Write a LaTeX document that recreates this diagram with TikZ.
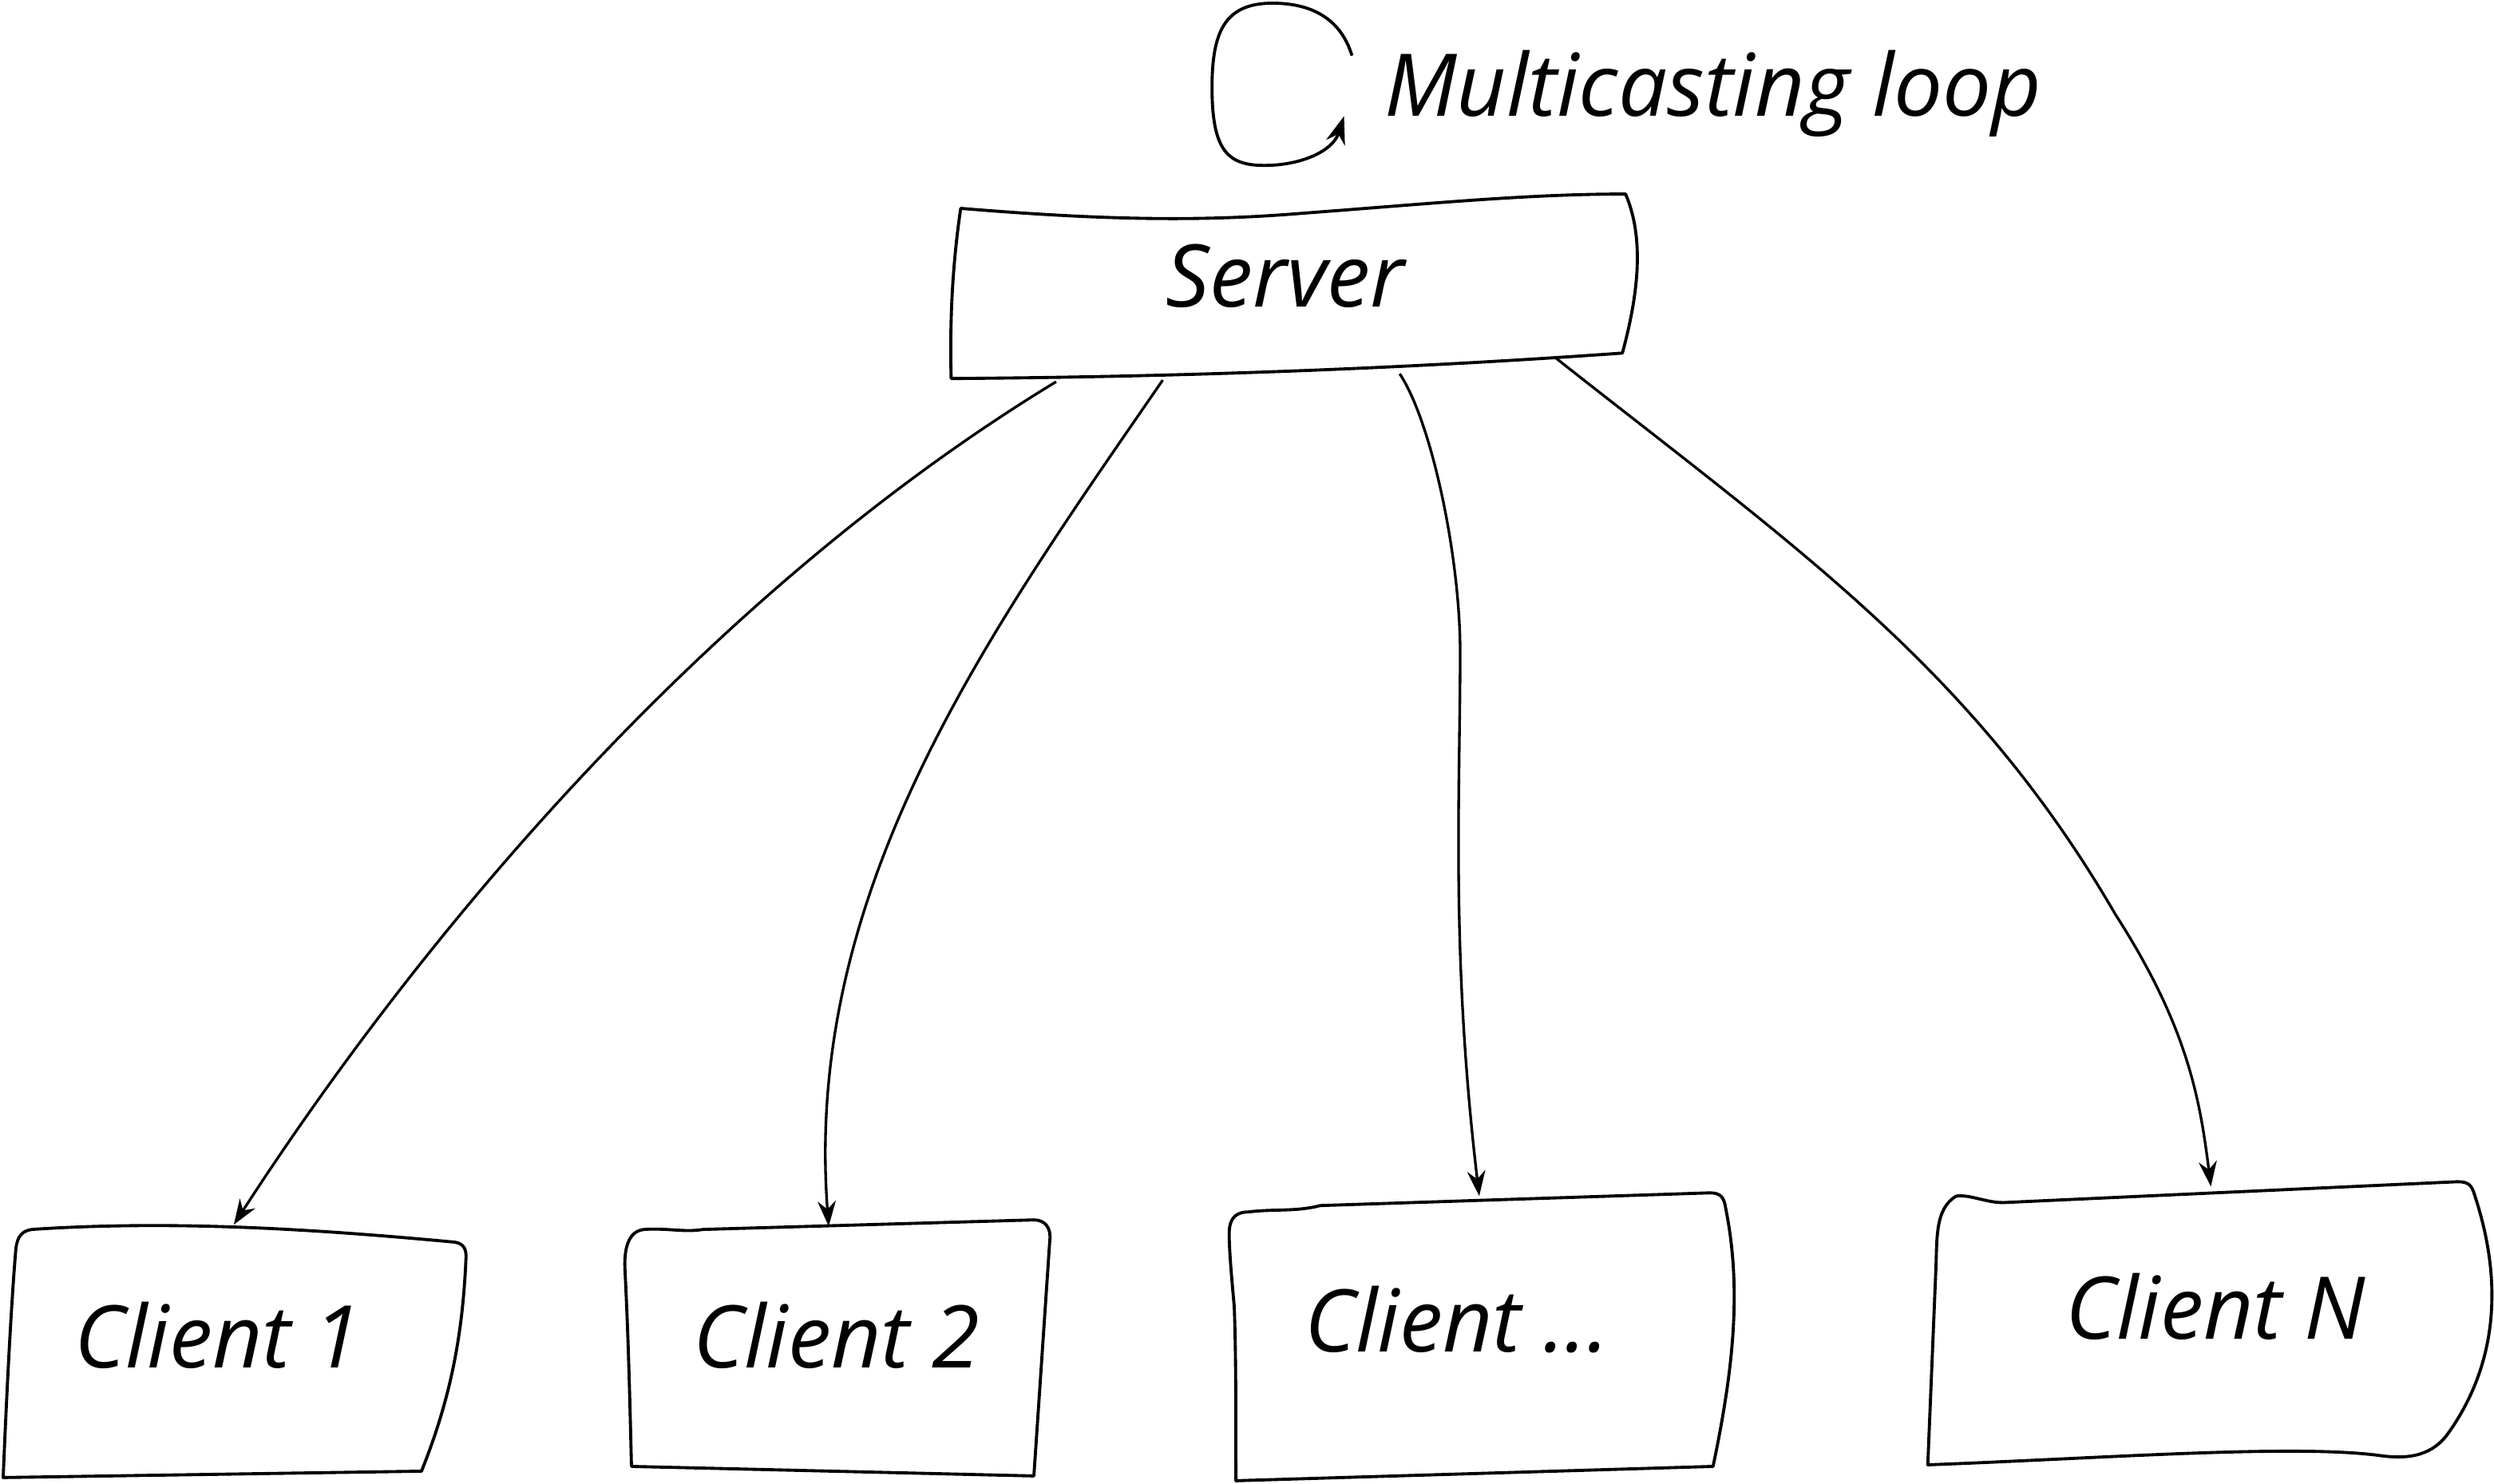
\documentclass[tikz,border=0pt]{standalone}
\usepackage{fontspec}
\setmainfont{Open Sans}
\usetikzlibrary{arrows.meta}
\tikzset{
	box/.style={line width=1.1pt, line join=round},
	link/.style={line width=0.95pt, -{Stealth[length=9pt,width=6.5pt]}},
	lbl/.style={font=\fontsize{31}{36}\selectfont\itshape, inner sep=0pt}
}

\begin{document}
\begin{tikzpicture}[x=0.02cm, y=-0.02cm]
				\useasboundingbox (0,0) rectangle (1568,933);
				
				\coordinate (loop-a) at (850,35);
				\coordinate (loop-b) at (845,73);
				\draw[line width=1.1pt, -{Stealth[length=10pt,width=7pt]}] (loop-a) .. controls (843,12) and (825,2) .. (800,2) .. controls (770,2) and (762,20) .. (762,55) .. controls (762,95) and (772,104) .. (795,104) .. controls (818,104) and (838,95) .. (loop-b);
				\node[lbl, anchor=base west] (mloop) at (870,73) {Multicasting loop};
				
				\draw[box] (604,131) .. controls (700,139) and (760,139) .. (820,134) .. controls (900,128) and (960,122) .. (1022,122) .. controls (1034,150) and (1030,185) .. (1020,222) .. controls (880,232) and (740,237) .. (598,238) .. controls (597,200) and (599,165) .. (604,131) -- cycle;
				\node[lbl, anchor=base] (server) at (808,193) {Server};
				
				\draw[box] (20,773) .. controls (110,767) and (200,773) .. (286,781) .. controls (292,782) and (293,786) .. (293,790) .. controls (291,840) and (283,880) .. (265,925) -- (2,929) .. controls (4,880) and (7,820) .. (10,785) .. controls (11,777) and (14,774) .. (20,773) -- cycle;
				\node[lbl, anchor=base] (client1) at (137,860) {Client 1};
				
				\draw[box] (405,773) .. controls (420,772) and (430,775) .. (442,773) -- (650,767) .. controls (657,767) and (661,772) .. (660,780) -- (650,928) -- (397,922) .. controls (396,880) and (395,840) .. (393,800) .. controls (392,785) and (395,774) .. (405,773) -- cycle;
				\node[lbl, anchor=base] (client2) at (526,860) {Client 2};
				
				\draw[box] (785,762) .. controls (800,760) and (815,762) .. (830,758) -- (1075,750) .. controls (1082,750) and (1084,753) .. (1085,760) .. controls (1095,810) and (1090,860) .. (1077,922) -- (777,931) .. controls (777,880) and (777,850) .. (776,822) .. controls (775,810) and (772,780) .. (773,772) .. controls (774,765) and (778,762) .. (785,762) -- cycle;
				\node[lbl, anchor=base] (client3) at (916,850) {Client ...};
				
				\draw[box] (1230,752) .. controls (1240,751) and (1250,757) .. (1262,756) -- (1545,743) .. controls (1552,743) and (1554,745) .. (1556,752) .. controls (1575,810) and (1568,860) .. (1540,900) .. controls (1530,915) and (1515,918) .. (1495,915) .. controls (1440,908) and (1320,917) .. (1212,921) -- (1217,800) .. controls (1218,780) and (1216,760) .. (1230,752) -- cycle;
				\node[lbl, anchor=base] (clientN) at (1393,842) {Client N};
				
				\coordinate (srv-o1) at (664,240);
				\coordinate (srv-o2) at (731,239);
				\coordinate (srv-o3) at (880,235);
				\coordinate (srv-o4) at (978,225);
				\coordinate (c1-in) at (147,770);
				\coordinate (c2-in) at (521,771);
				\coordinate (c3-in) at (930,752);
				\coordinate (cN-in) at (1390,746);
				
				\draw[link] (srv-o1) .. controls (450,370) and (270,580) .. (c1-in);
				\draw[link] (srv-o2) .. controls (620,400) and (505,560) .. (c2-in);
				\draw[link] (srv-o3) .. controls (900,265) and (918,350) .. (918,410) .. controls (918,500) and (912,600) .. (c3-in);
				\draw[link] (srv-o4) .. controls (1130,345) and (1240,420) .. (1330,575) .. controls (1375,645) and (1383,690) .. (cN-in);
			\end{tikzpicture}
\end{document}
